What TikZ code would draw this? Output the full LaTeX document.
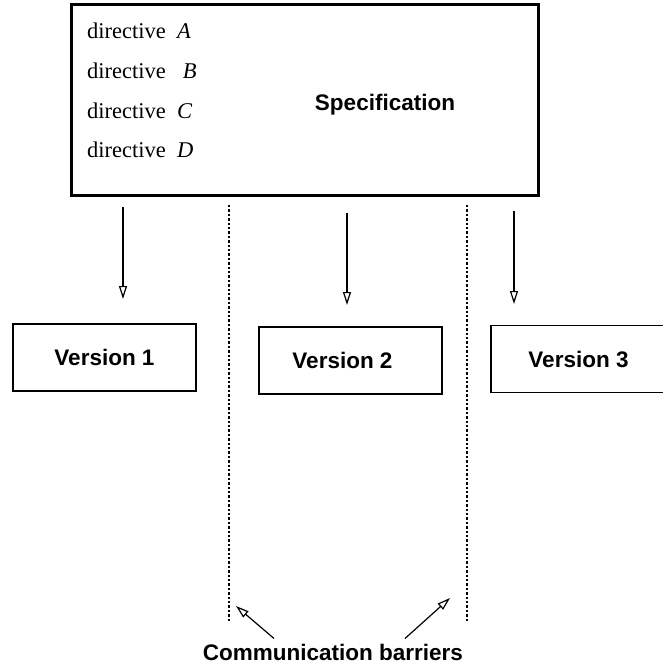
\documentclass[tikz,border=0pt]{standalone}
\usepackage{fontspec}
\setmainfont{Liberation Serif}
\newfontfamily\helv{Liberation Sans}
\usetikzlibrary{arrows.meta,positioning}

\tikzset{
  big/.style={font=\fontsize{22.5}{27}\selectfont},
  bighelv/.style={font=\helv\bfseries\fontsize{22.5}{27}\selectfont},
  dirline/.style={big,anchor=base west,inner sep=0pt},
  specbox/.style={draw,line width=3pt,minimum width=467pt,minimum height=191pt,inner sep=0pt},
  version/.style={draw,line width=1.2pt,minimum width=183pt,minimum height=67pt,bighelv},
  flow/.style={line width=1.2pt,-{Triangle[open,length=13pt,width=8pt,line width=1.2pt]}},
  barrier/.style={line width=2.6pt,dash pattern=on 2.4pt off 2pt},
}

\begin{document}
\begin{tikzpicture}[x=1pt,y=-1pt]
\useasboundingbox (0,0) rectangle (663,665);
\node[specbox] (spec) at (304.5,99.5) {};
\node[dirline] (dA) at (87,38) {directive\ \ \textit{A}};
\node[dirline] (dB) at (87,78) {directive\ \ \ \textit{B}};
\node[dirline] (dC) at (87,118) {directive\ \ \textit{C}};
\node[dirline] (dD) at (87,157) {directive\ \ \textit{D}};
\node[bighelv] (title) at (385,105) {Specification};

\node[version] (v1) at (104.5,357.5) {Version 1};
\node[version] (v2) at (350.5,360.5) {Version 2\hspace*{16pt}};
\node[version] (v3) at (582.5,359) {Version 3\hspace*{8pt}};

\coordinate (t1) at (123,299);
\coordinate (t2) at (347,305);
\coordinate (t3) at (514,304);
\draw[flow] ([yshift=-10pt]spec.south -| t1) -- (t1);
\draw[flow] ([yshift=-16pt]spec.south -| t2) -- (t2);
\draw[flow] ([yshift=-14pt]spec.south -| t3) -- (t3);

% barriers
\coordinate (b1) at (229,205);
\coordinate (b1e) at (229,622);
\coordinate (b2) at (467,205);
\coordinate (b2e) at (467,622);
\draw[barrier] (b1) -- (b1e);
\draw[barrier] (b2) -- (b2e);

\node[bighelv,anchor=base,inner sep=2pt] (cb) at (333,660) {Communication barriers};
\coordinate (p1) at (236,606);
\coordinate (p2) at (450,598);
\draw[flow] ([xshift=-59pt,yshift=3pt]cb.north) -- (p1);
\draw[flow] ([xshift=72pt,yshift=3pt]cb.north) -- (p2);
\end{tikzpicture}
\end{document}
